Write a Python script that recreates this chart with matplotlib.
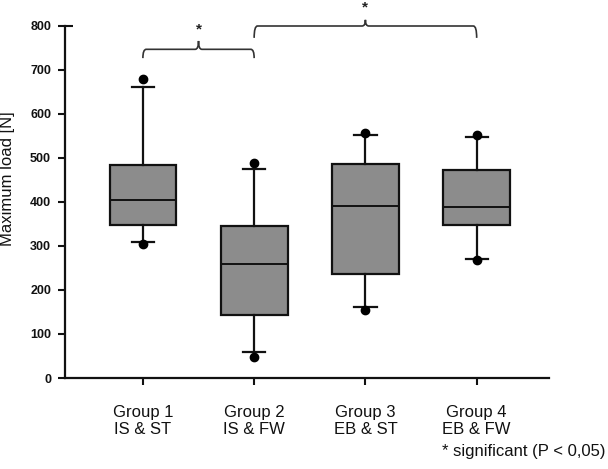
import matplotlib
matplotlib.use("Agg")
import matplotlib.pyplot as plt
from matplotlib.path import Path
from matplotlib.patches import PathPatch

plt.rcParams['font.family'] = ['Liberation Sans', 'DejaVu Sans']

groups = ["Group 1\nIS & ST", "Group 2\nIS & FW", "Group 3\nEB & ST", "Group 4\nEB & FW"]
q1 = [348, 143, 236, 347]
med = [405, 258, 391, 389]
q3 = [484, 345, 486, 472]
whislo = [308, 58, 162, 270]
whishi = [661, 474, 552, 548]
flier_lo = [305, 48, 155, 268]
flier_hi = [679, 489, 557, 553]
yticks = [0, 100, 200, 300, 400, 500, 600, 700, 800]

fig = plt.figure(figsize=(6.08, 4.69), dpi=100)
ax = fig.add_axes([65/608, 1-378/469, (549-65)/608, (378-26)/469])

stats = []
for i in range(4):
    stats.append(dict(med=med[i], q1=q1[i], q3=q3[i], whislo=whislo[i], whishi=whishi[i],
                      fliers=[flier_lo[i], flier_hi[i]]))
positions = [1, 2, 3, 4]
ax.bxp(stats, positions=positions, widths=0.6, capwidths=0.2, patch_artist=True, showfliers=True,
       boxprops=dict(facecolor='#8c8c8c', edgecolor='#111111', linewidth=1.6),
       medianprops=dict(color='#111111', linewidth=1.4),
       whiskerprops=dict(color='#111111', linewidth=1.6),
       capprops=dict(color='#111111', linewidth=1.6),
       flierprops=dict(marker='o', markerfacecolor='black', markeredgecolor='black', markersize=6))

ax.set_xlim(0.30, 4.65)
ax.set_ylim(0, 800)
ax.set_yticks(yticks)
ax.set_yticklabels([str(v) for v in yticks], fontweight='bold')
ax.set_xticks(positions)
ax.set_xticklabels(groups, fontsize=12, linespacing=1.15)
ax.tick_params(axis='x', direction='out', length=5, width=1.5, pad=14.5, colors='#111111')
ax.tick_params(axis='y', direction='out', length=5, width=1.5, pad=5, labelsize=9, colors='#111111')
for s in ['top', 'right']:
    ax.spines[s].set_visible(False)
for s in ['left', 'bottom']:
    ax.spines[s].set_linewidth(1.6)
    ax.spines[s].set_color('#111111')
ax.hlines(800, 0, 0.017, transform=ax.get_yaxis_transform(), color='#111111', lw=1.5, clip_on=False)

ax.set_ylabel("Maximum load [N]", fontsize=12, color='#111111')
ax.yaxis.set_label_coords(-50/484, 0.565)


def brace(x1, x2, yh, ye, ytip, star_y):
    xm = (x1 + x2) / 2
    dx = 0.03
    verts = [(x1, ye), (x1, yh), (x1 + dx, yh),
             (xm - dx, yh), (xm, yh), (xm, ytip),
             (xm, yh), (xm + dx, yh),
             (x2 - dx, yh), (x2, yh), (x2, ye)]
    codes = [Path.MOVETO, Path.CURVE3, Path.CURVE3,
             Path.LINETO, Path.CURVE3, Path.CURVE3,
             Path.CURVE3, Path.CURVE3,
             Path.LINETO, Path.CURVE3, Path.CURVE3]
    p = PathPatch(Path(verts, codes), fill=False, edgecolor='#333333', lw=1.2,
                  transform=ax.transData, clip_on=False)
    ax.add_patch(p)
    ax.text(xm, star_y, "*", ha='center', va='center', fontsize=11, fontweight='bold',
            color='#222222', clip_on=False)


brace(1, 2, 747, 727, 766, 792)
brace(2, 4, 800, 773, 814, 843)

fig.text(605/608, 1-451/469, "* significant (P < 0,05)", ha='right', va='center', fontsize=12,
         color='#111111')

fig.savefig("out.png", dpi=100)
